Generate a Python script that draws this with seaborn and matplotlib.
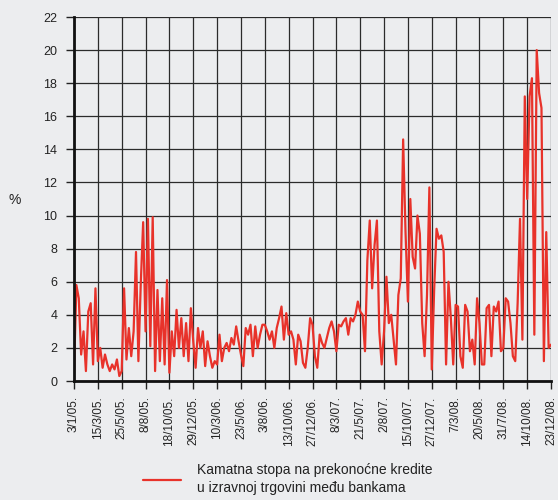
import numpy as np
import pandas as pd
import seaborn as sns
import matplotlib.pyplot as plt

# tick dates (every 50 trading days), one data value per 5 trading days
tick_labels = ['3/1/05.', '15/3/05.', '25/5/05.', '8/8/05.', '18/10/05.', '29/12/05.',
               '10/3/06.', '23/5/06.', '3/8/06.', '13/10/06.', '27/12/06.', '8/3/07.',
               '21/5/07.', '2/8/07.', '15/10/07.', '27/12/07.', '7/3/08.', '20/5/08.',
               '31/7/08.', '14/10/08.', '23/12/08.']

rate = [
    0.5, 5.8, 5.0, 1.6, 3.0, 0.6, 4.2, 4.7, 1.0, 5.6,     # 3/1/05 -
    1.2, 2.0, 0.8, 1.6, 1.0, 0.6, 1.0, 0.7, 1.3, 0.3,     # 15/3/05 -
    0.6, 5.6, 1.3, 3.2, 1.5, 3.0, 7.8, 1.2, 5.9, 9.6,     # 25/5/05 -
    3.0, 9.8, 2.1, 9.9, 0.6, 5.5, 1.2, 5.0, 1.0, 6.1,     # 8/8/05 -
    0.5, 3.0, 1.5, 4.3, 2.0, 3.8, 1.5, 3.5, 1.2, 4.4,     # 18/10/05 -
    2.4, 0.8, 3.2, 2.0, 3.0, 0.9, 2.4, 1.5, 0.8, 1.2,     # 29/12/05 -
    1.0, 2.8, 1.2, 2.0, 2.3, 1.8, 2.6, 2.2, 3.3, 2.4,     # 10/3/06 -
    1.6, 0.9, 3.2, 2.8, 3.4, 1.5, 3.3, 2.0, 2.8, 3.4,     # 23/5/06 -
    3.4, 3.0, 2.5, 3.0, 2.0, 3.2, 3.8, 4.5, 2.5, 4.1,     # 3/8/06 -
    2.8, 3.0, 2.5, 1.0, 2.8, 2.4, 1.1, 0.8, 2.0, 3.8,     # 13/10/06 -
    3.4, 1.5, 0.8, 2.8, 2.3, 2.0, 2.6, 3.2, 3.6, 3.0,     # 27/12/06 -
    1.8, 3.4, 3.3, 3.6, 3.8, 2.8, 3.8, 3.6, 4.0, 4.8,     # 8/3/07 -
    4.2, 4.0, 1.8, 7.3, 9.7, 5.6, 8.2, 9.7, 3.0, 1.0,     # 21/5/07 -
    3.0, 6.3, 3.5, 4.0, 2.5, 1.0, 5.2, 6.2, 14.6, 9.0,    # 2/8/07 -
    4.8, 11.0, 7.5, 6.8, 10.0, 8.9, 3.5, 1.5, 5.2, 11.7,  # 15/10/07 -
    0.7, 5.5, 9.2, 8.6, 8.8, 7.8, 1.0, 6.0, 3.8, 1.0,     # 27/12/07 -
    4.6, 4.5, 1.5, 0.8, 4.6, 4.2, 1.8, 2.5, 1.0, 5.0,     # 7/3/08 -
    3.5, 1.0, 1.0, 4.4, 4.6, 1.5, 4.5, 4.2, 4.8, 1.8,     # 20/5/08 -
    2.0, 5.0, 4.8, 3.5, 1.5, 1.2, 4.7, 9.8, 2.5, 17.2,    # 31/7/08 -
    11.0, 17.2, 18.3, 2.8, 20.0, 17.4, 16.5, 1.2, 9.0, 2.0,  # 14/10/08 -
    2.2,                                                  # 23/12/08
]

legend_label = 'Kamatna stopa na prekonoćne kredite\nu izravnoj trgovini među bankama'

df = pd.DataFrame({'step': np.arange(len(rate)), 'rate': rate})

bg = '#ecedef'
sns.set_theme(style='white')
plt.rcParams['font.family'] = ['Liberation Sans', 'DejaVu Sans']

fig = plt.figure(figsize=(5.58, 5.0), dpi=100, facecolor=bg)
ax = fig.add_axes([0.1326, 0.238, 0.8549, 0.728])
ax.set_facecolor(bg)

sns.lineplot(data=df, x='step', y='rate', ax=ax, color='#e8322a', lw=1.6,
             label=legend_label, legend=False)

ax.set_xlim(0, 200)
ax.set_ylim(0, 22)
ax.set_yticks(range(0, 23, 2))
ax.set_xticks(range(0, 201, 10))
ax.set_xticklabels(tick_labels, rotation=90, ha='center', va='top')
ax.tick_params(axis='both', direction='out', length=6, width=1, color='#222222',
               labelsize=9, labelcolor='#222222', bottom=True, left=True)
ax.tick_params(axis='y', pad=6)
ax.tick_params(axis='x', pad=5, labelsize=8.5)

ax.grid(True, color='#2b2b2b', lw=0.9)
ax.set_axisbelow(True)
for side in ['top', 'right']:
    ax.spines[side].set_visible(False)
for side in ['left', 'bottom']:
    ax.spines[side].set_color('#111111')
    ax.spines[side].set_linewidth(2)

ax.set_xlabel('')
ax.set_ylabel('')
fig.text(0.027, 0.6, '%', fontsize=10, color='#222222', ha='center', va='center')

handles, labels = ax.get_legend_handles_labels()
leg = fig.legend(handles, labels, loc='center', bbox_to_anchor=(0.515, 0.042),
                 frameon=False, fontsize=10, handlelength=2.8, handletextpad=1.1)
for t in leg.get_texts():
    t.set_linespacing(1.45)
    t.set_color('#222222')

fig.savefig('out.png', dpi=100, facecolor=bg)
